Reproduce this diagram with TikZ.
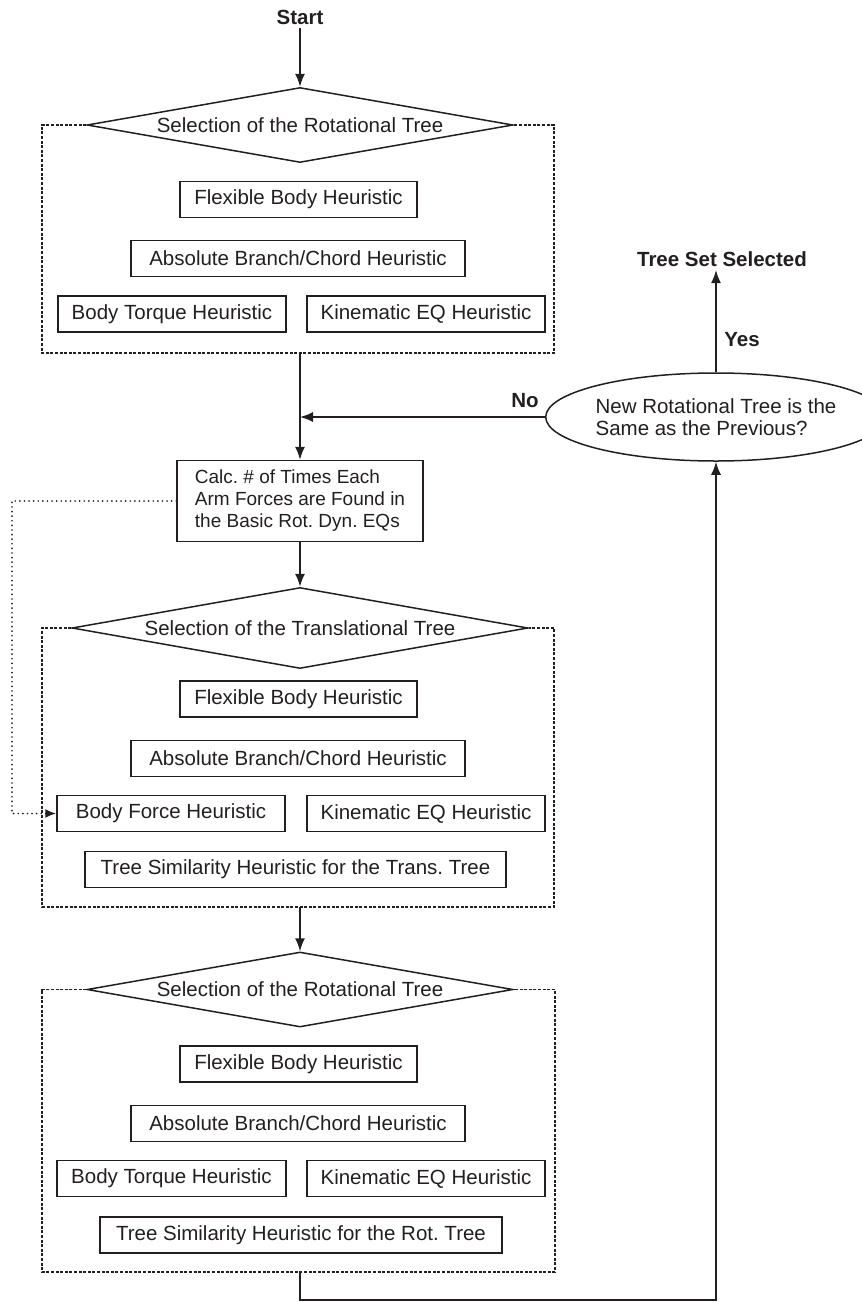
\documentclass[tikz,border=0pt]{standalone}
\usepackage{fontspec}
\setmainfont{Liberation Sans}
\usetikzlibrary{arrows.meta,shapes.geometric,calc}
\definecolor{ink}{HTML}{231F20}
\begin{document}
\frenchspacing
\begin{tikzpicture}[x=1pt,y=-1pt,
  every node/.style={font=\fontsize{20.5}{22.3}\selectfont, text=ink},
  hbox/.style={draw=ink, line width=1.5pt, minimum height=36pt, inner sep=0pt, anchor=center},
  decide/.style={draw=ink, line width=1.5pt, shape=diamond, inner sep=0pt, aspect=5},
  frame/.style={draw=ink, line width=1.2pt, dash pattern=on 3pt off 1.6pt},
  flow/.style={draw=ink, line width=1.5pt, -{Latex[length=13pt,width=10pt]}},
  dotlink/.style={draw=ink, line width=1.9pt, line cap=round, dash pattern=on 0pt off 4.6pt, -{Latex[length=11pt,width=9pt]}},
  lbl/.style={font=\fontsize{20.5}{22.3}\selectfont\bfseries}
]
\useasboundingbox (0,0) rectangle (862,1302);

% start
\node[lbl] (start) at (300,17) {Start};

% first rotational tree selection
\node[decide, minimum width=426pt, minimum height=75pt] (d1) at (300,125) {Selection of the Rotational Tree};
\node[hbox, minimum width=237pt] (fb1) at (298.5,199.5) {Flexible Body Heuristic};
\node[hbox, minimum width=334pt] (ab1) at (298,258.5) {Absolute Branch/Chord Heuristic};
\node[hbox, minimum width=228pt] (bt1) at (172,314) {Body Torque Heuristic};
\node[hbox, minimum width=238pt] (ke1) at (426,314) {Kinematic EQ Heuristic};
\coordinate (f1b) at (300,353);
\path[frame] (d1.west) -- (42,125) -- (42,353) -- (554,353) -- (554,125) -- (d1.east);

% force count box
\node[hbox, minimum width=246pt, minimum height=81pt, align=left, font=\fontsize{19}{22}\selectfont] (calc) at (300,501)
  {Calc. \# of Times Each\\Arm Forces are Found in\\the Basic Rot. Dyn. EQs};

% translational tree selection
\node[decide, minimum width=456pt, minimum height=81pt] (d2) at (300,628) {Selection of the Translational Tree};
\node[hbox, minimum width=237pt] (fb2) at (298.5,699) {Flexible Body Heuristic};
\node[hbox, minimum width=334pt] (ab2) at (298,758.5) {Absolute Branch/Chord Heuristic};
\node[hbox, minimum width=228pt] (bf2) at (171,813.5) {Body Force Heuristic};
\node[hbox, minimum width=238pt] (ke2) at (426,813.5) {Kinematic EQ Heuristic};
\node[hbox, minimum width=421pt] (ts2) at (295.5,869.5) {Tree Similarity Heuristic for the Trans. Tree};
\coordinate (f2b) at (300,907);
\path[frame] (d2.west) -- (42,628) -- (42,907) -- (554,907) -- (554,628) -- (d2.east);

% second rotational tree selection
\node[decide, minimum width=426pt, minimum height=75pt] (d3) at (300,989.5) {Selection of the Rotational Tree};
\node[hbox, minimum width=237pt] (fb3) at (298.5,1064) {Flexible Body Heuristic};
\node[hbox, minimum width=334pt] (ab3) at (298,1123.5) {Absolute Branch/Chord Heuristic};
\node[hbox, minimum width=229pt] (bt3) at (171.5,1178.5) {Body Torque Heuristic};
\node[hbox, minimum width=238pt] (ke3) at (426,1178.5) {Kinematic EQ Heuristic};
\node[hbox, minimum width=402pt] (ts3) at (301,1235) {Tree Similarity Heuristic for the Rot. Tree};
\coordinate (f3b) at (300,1272);
\path[frame] (d3.west) -- (42,989.5) -- (42,1272) -- (555,1272) -- (555,989.5) -- (d3.east);

% termination test
\node[draw=ink, line width=1.5pt, ellipse, minimum width=300pt, minimum height=88pt, inner sep=0pt, align=left] (ell) at (716,417)
  {New Rotational Tree is the\\Same as the Previous?};
\node[lbl] (done) at (722,259) {Tree Set Selected};
\node[lbl] (no) at (525,401) {No};
\node[lbl] (yes) at (742,340) {Yes};

% connectors
\path[flow] (start) -- (d1.north);
\path[flow] (f1b) -- (calc.north);
\path[flow] (ell.west) -- (ell.west -| calc.north);
\path[flow] (calc.south) -- (d2.north);
\path[flow] (f2b) -- (d3.north);
\coordinate (loopy) at (300,1300);
\path[flow] (f3b) -- (loopy) -| (ell.south);
\path[flow] (ell.north) -- (ell.north |- done.south);
\coordinate (dotx) at (12,0);
\path[dotlink] (calc.west) -- (calc.west -| dotx) |- (bf2.west);
\end{tikzpicture}
\end{document}
